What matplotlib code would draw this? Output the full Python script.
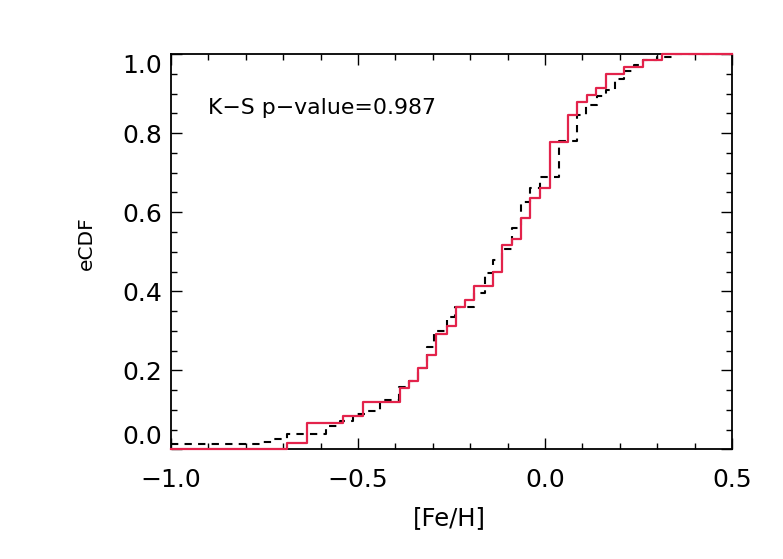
import matplotlib
matplotlib.use("Agg")
import matplotlib.pyplot as plt
from matplotlib.ticker import MultipleLocator, FuncFormatter

# step positions ([Fe/H]) and eCDF level after each step
red_steps = [-0.689, -0.637, -0.539, -0.487, -0.388, -0.364, -0.339, -0.316,
             -0.292, -0.263, -0.239, -0.214, -0.190, -0.138, -0.114, -0.089,
             -0.065, -0.040, -0.013, 0.012, 0.062, 0.086, 0.111, 0.136,
             0.162, 0.212, 0.263, 0.312]
red_levels = [0.017, 0.066, 0.085, 0.120, 0.155, 0.173, 0.206, 0.239,
              0.292, 0.313, 0.360, 0.378, 0.414, 0.448, 0.518, 0.533,
              0.585, 0.636, 0.661, 0.777, 0.845, 0.879, 0.897, 0.914,
              0.950, 0.967, 0.984, 1.000]
red_start = 0.0

blk_steps = [-0.762, -0.731, -0.690, -0.585, -0.548, -0.514, -0.479, -0.440,
             -0.390, -0.365, -0.339, -0.316, -0.296, -0.263, -0.240, -0.190,
             -0.160, -0.138, -0.114, -0.089, -0.065, -0.040, -0.013, 0.037,
             0.085, 0.110, 0.138, 0.163, 0.187, 0.212, 0.237, 0.262,
             0.299, 0.339]
blk_levels = [0.020, 0.027, 0.039, 0.060, 0.073, 0.089, 0.097, 0.125,
              0.159, 0.174, 0.207, 0.260, 0.300, 0.336, 0.360, 0.395,
              0.445, 0.478, 0.507, 0.560, 0.627, 0.661, 0.690, 0.780,
              0.847, 0.872, 0.895, 0.910, 0.937, 0.958, 0.973, 0.986,
              0.992, 1.000]
blk_start = 0.013

ks_text = "K\u2212S p\u2212value=0.987"
x_min, x_max = -1.0, 0.5


def step_xy(steps, levels, start):
    xs = [x_min] + steps + [x_max]
    ys = [start] + levels + [levels[-1]]
    return xs, ys


def fmt(v, pos):
    return ("%.1f" % v).replace("-", "\u2212")


def main():
    fig = plt.figure(figsize=(7.83, 5.59), dpi=100)
    ax = fig.add_axes([0.2184, 0.1959, 0.7165, 0.7075])

    bx, by = step_xy(blk_steps, blk_levels, blk_start)
    ax.step(bx, by, where="post", color="black", lw=1.5,
            linestyle=(0, (3.5, 3)), zorder=2.6)
    rx, ry = step_xy(red_steps, red_levels, red_start)
    ax.step(rx, ry, where="post", color="#E3234B", lw=1.6,
            zorder=3, clip_on=False)

    ax.set_xlim(x_min, x_max)
    ax.set_ylim(0.0, 1.0)
    ax.set_xticks([-1.0, -0.5, 0.0, 0.5])
    ax.set_yticks([0.0, 0.2, 0.4, 0.6, 0.8, 1.0])
    ax.xaxis.set_minor_locator(MultipleLocator(0.1))
    ax.yaxis.set_minor_locator(MultipleLocator(0.05))
    ax.xaxis.set_major_formatter(FuncFormatter(fmt))
    ax.yaxis.set_major_formatter(FuncFormatter(fmt))

    ax.tick_params(which="both", direction="in", top=True, right=True,
                   width=1.0, colors="black")
    ax.tick_params(which="major", length=7.7, labelsize=18)
    ax.tick_params(which="minor", length=4.5)
    ax.tick_params(axis="x", which="major", pad=13)
    ax.tick_params(axis="y", which="major", pad=6.5)
    for sp in ax.spines.values():
        sp.set_linewidth(1.3)

    ylabels = ax.get_yticklabels()
    ylabels[0].set_va("bottom")
    ylabels[-1].set_va("top")

    ax.set_xlabel("[Fe/H]", fontsize=17.5, va="center")
    ax.xaxis.set_label_coords(0.497, -0.1745)
    ax.set_ylabel("eCDF", fontsize=14.5, va="center")
    ax.yaxis.set_label_coords(-0.1515, 0.5215)

    ax.text(0.0665, 0.848, ks_text, transform=ax.transAxes,
            fontsize=15.8, ha="left", va="baseline")

    fig.savefig("out.png", dpi=100)


if __name__ == "__main__":
    main()
